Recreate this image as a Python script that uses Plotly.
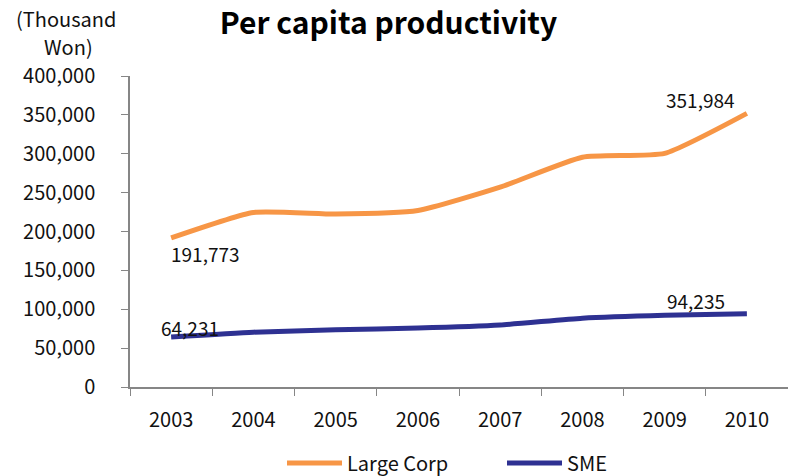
import plotly.graph_objects as go

years = ["2003", "2004", "2005", "2006", "2007", "2008", "2009", "2010"]
large_corp = [191773, 224500, 222500, 227000, 257000, 295500, 300500, 351984]
sme = [64231, 70500, 73500, 75800, 79700, 88500, 92300, 94235]
y_ticks = [0, 50000, 100000, 150000, 200000, 250000, 300000, 350000, 400000]

FONT = "Noto Sans CJK KR"
ORANGE = "#F79646"
NAVY = "#2E3192"
TXT = "#111111"

L, R, T, B = 130, 788, 76, 387  # plot area in pixels


def px_to_paper(px, py):
    return (px - L) / (R - L), (B - py) / (B - T)


fig = go.Figure()
fig.add_trace(go.Scatter(x=years, y=large_corp, mode="lines", name="Large Corp",
                         line=dict(color=ORANGE, width=5, shape="spline", smoothing=0.5)))
fig.add_trace(go.Scatter(x=years, y=sme, mode="lines", name="SME",
                         line=dict(color=NAVY, width=5, shape="spline", smoothing=0.5)))

first, last = 0, len(years) - 1
# (category index, value, xshift, yshift)
labels = [
    (first, large_corp[first], 34, -16),
    (last, large_corp[last], -46, 14),
    (first, sme[first], 19, 10),
    (last, sme[last], -51, 13),
]
for x, y, xs, ys in labels:
    fig.add_annotation(x=x, y=y, xref="x", yref="y", text=f"{y:,}", showarrow=False,
                       xshift=xs, yshift=ys, xanchor="center", yanchor="middle",
                       font=dict(family=FONT, size=19, color=TXT))

for txt, px, py in [("(Thousand", 66, 18), ("Won)", 68, 46)]:
    ax, ay = px_to_paper(px, py)
    fig.add_annotation(xref="paper", yref="paper", x=ax, y=ay,
                       xanchor="center", yanchor="middle", text=txt, showarrow=False,
                       font=dict(family=FONT, size=20, color=TXT))

fig.update_layout(
    width=788, height=476,
    margin=dict(l=L, r=788 - R, t=T, b=476 - B, autoexpand=False),
    paper_bgcolor="white", plot_bgcolor="white",
    font=dict(family=FONT, size=20, color=TXT),
    title=dict(text="<b>Per capita productivity</b>", x=0.493, xanchor="center",
               y=0.95, yanchor="middle", font=dict(family=FONT, size=30, color="#000000")),
    showlegend=True,
    legend=dict(orientation="h", xref="container", yref="container",
                x=282 / 788, xanchor="left", y=1 - 463 / 476, yanchor="middle",
                font=dict(family=FONT, size=20), itemwidth=55, entrywidth=150,
                tracegroupgap=0),
    xaxis=dict(type="category", range=[-0.5, 7.5], showline=True, linecolor="#868686",
               linewidth=1.5, ticks="outside", tickson="boundaries", ticklen=7,
               tickcolor="#868686", showgrid=False, ticklabelstandoff=14),
    yaxis=dict(range=[0, 400000], tickvals=y_ticks, ticktext=[f"{v:,}" for v in y_ticks],
               showline=True, linecolor="#868686", linewidth=1.5, ticks="outside",
               ticklen=7, tickcolor="#868686", showgrid=False, zeroline=False,
               ticklabelstandoff=22),
)

fig.write_html("out.html")
